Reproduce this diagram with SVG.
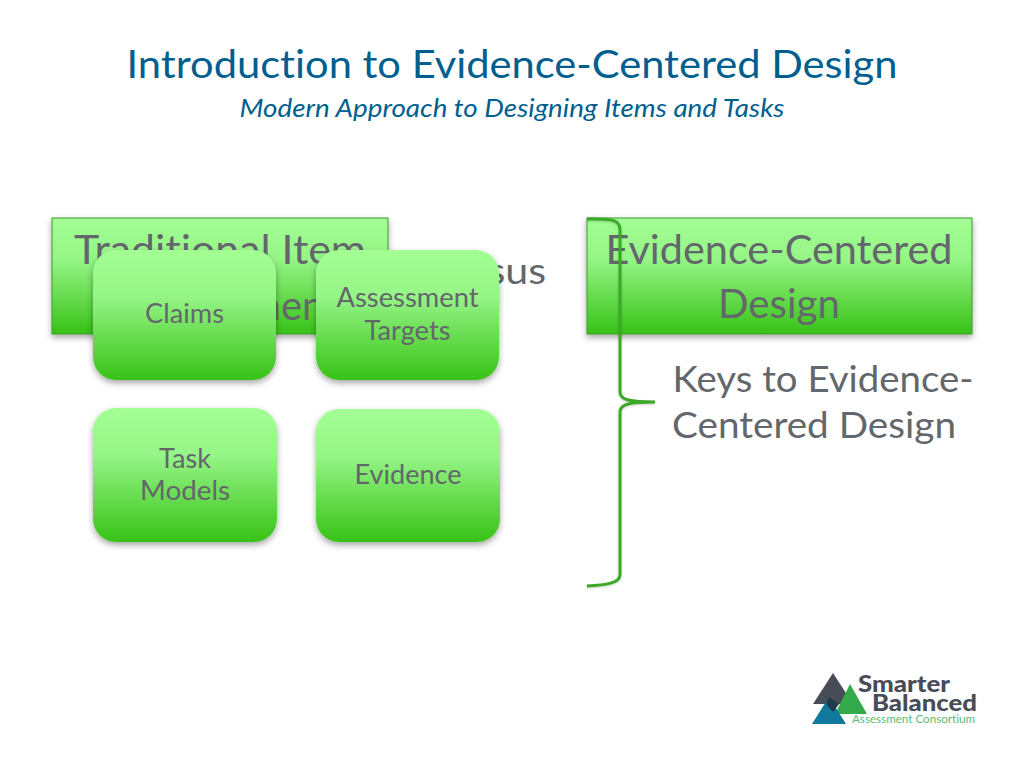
<svg xmlns="http://www.w3.org/2000/svg" width="1024" height="768" viewBox="0 0 1024 768">
<defs>
<linearGradient id="g" x1="0" y1="0" x2="0" y2="1"><stop offset="0" stop-color="#a3ff94"/><stop offset="0.35" stop-color="#96f587"/><stop offset="1" stop-color="#38c217"/></linearGradient>
<filter id="s" x="-10%" y="-10%" width="120%" height="125%"><feDropShadow dx="0" dy="3" stdDeviation="3" flood-color="#000" flood-opacity="0.35"/></filter>
<filter id="b" x="-20%" y="-5%" width="140%" height="110%"><feDropShadow dx="0" dy="1" stdDeviation="1" flood-color="#000" flood-opacity="0.2"/></filter>
</defs>
<style>
text{font-family:"Lato","Liberation Sans",sans-serif;text-anchor:middle;fill:#63676c;font-variant-ligatures:none}
.t{fill:#005f8f}
.box{fill:url(#g);stroke:#3f9a2c;stroke-width:1;filter:url(#s)}
.rb{fill:url(#g);filter:url(#s)}
.big{font-size:40px}
.mid{font-size:37px}
.sm{font-size:26px}
.lg{font-weight:900;fill:#474c57}
</style>
<rect width="1024" height="768" fill="#fff"/>
<g id="title">
<text class="t" x="512" y="78" font-size="39" textLength="771" lengthAdjust="spacingAndGlyphs">Introduction to Evidence-Centered Design</text>
<text class="t" x="512" y="117" font-size="25" font-style="italic" textLength="545" lengthAdjust="spacingAndGlyphs">Modern Approach to Designing Items and Tasks</text>
</g>
<g id="versus"><text class="mid" x="486" y="284" textLength="120" lengthAdjust="spacingAndGlyphs">Versus</text></g>
<g id="node-traditional">
<rect class="box" x="52" y="218" width="336" height="116"/>
<text class="big" x="220" y="264" textLength="292" lengthAdjust="spacingAndGlyphs">Traditional Item</text>
<text class="big" x="220" y="320">Development</text>
</g>
<g id="node-ecd">
<rect class="box" x="587" y="218" width="385" height="116"/>
<text class="big" x="779" y="264" textLength="347" lengthAdjust="spacingAndGlyphs">Evidence-Centered</text>
<text class="big" x="779" y="318" textLength="122" lengthAdjust="spacingAndGlyphs">Design</text>
</g>
<g id="node-claims">
<rect class="rb" x="93" y="250" width="183" height="130" rx="23"/>
<text class="sm" x="184.500" y="323" textLength="79" lengthAdjust="spacingAndGlyphs">Claims</text>
</g>
<g id="node-targets">
<rect class="rb" x="316" y="250" width="183" height="130" rx="23"/>
<text class="sm" x="407.500" y="307" textLength="142" lengthAdjust="spacingAndGlyphs">Assessment</text>
<text class="sm" x="407.500" y="340" textLength="86" lengthAdjust="spacingAndGlyphs">Targets</text>
</g>
<g id="node-task">
<rect class="rb" x="93" y="408" width="184" height="134" rx="23"/>
<text class="sm" x="185" y="468" textLength="52" lengthAdjust="spacingAndGlyphs">Task</text>
<text class="sm" x="185" y="500" textLength="90" lengthAdjust="spacingAndGlyphs">Models</text>
</g>
<g id="node-evidence">
<rect class="rb" x="316" y="409" width="184" height="133" rx="23"/>
<text class="sm" x="408" y="484" textLength="107" lengthAdjust="spacingAndGlyphs">Evidence</text>
</g>
<g id="connectors">
<path d="M587 219 C606 219 620 218 620 229 V392 C620 400 630 402 655 402 C630 402 620 404 620 412 V575 C620 583 606 585 587 586" fill="none" stroke="#3aa828" stroke-width="3" filter="url(#b)"/>
</g>
<g id="keys">
<text class="mid" x="823" y="392" textLength="301" lengthAdjust="spacingAndGlyphs">Keys to Evidence-</text>
<text class="mid" x="814" y="438" textLength="284" lengthAdjust="spacingAndGlyphs">Centered Design</text>
</g>
<g id="logo">
<polygon points="833,673 853,704 813,704" fill="#474c57"/>
<polygon points="850,684 867,714 835,714" fill="#34ab4a"/>
<polygon points="829,697 846,724 812,724" fill="#11799b"/>
<polygon points="829,697 839,704 833,712 826,704" fill="#1f3a4a"/>
<text class="lg" x="904" y="692" font-size="23" textLength="92" lengthAdjust="spacingAndGlyphs">Smarter</text>
<text class="lg" x="924.500" y="711" font-size="23" textLength="105" lengthAdjust="spacingAndGlyphs">Balanced</text>
<text x="913.500" y="723" font-size="10.500" style="fill:#5dbb78" textLength="123" lengthAdjust="spacingAndGlyphs">Assessment Consortium</text>
</g>
</svg>
